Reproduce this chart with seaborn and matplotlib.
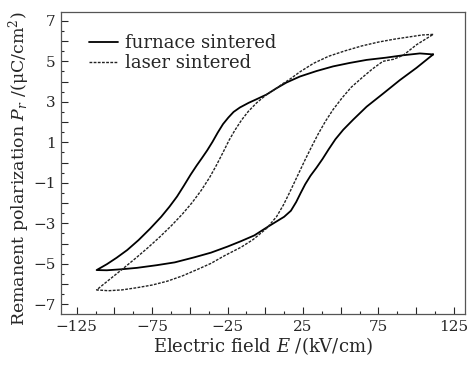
import numpy as np
import pandas as pd
import seaborn as sns
import matplotlib.pyplot as plt
from matplotlib.ticker import MultipleLocator, FuncFormatter

# furnace sintered loop: upper branch (right tip -> left tip), then lower branch (left -> right)
furnace_E = [111.3, 102.5, 91.5, 80.0, 67.2, 56.0, 45.0, 34.0, 23.0, 14.0, 7.0, 0.9,
             -5.7, -11.0, -16.8, -21.0, -24.5, -28.0, -31.5, -35.0, -38.5, -42.0, -45.5,
             -49.5, -54.0, -58.5, -63.5, -69.0, -76.4, -84.0, -91.5, -98.5, -105.0, -111.8,
             -105.0, -95.2, -85.0, -72.0, -60.0, -47.0, -36.0, -25.0, -16.0, -7.3, 0.9,
             7.0, 12.5, 17.0, 20.5, 23.5, 26.5, 30.0, 34.0, 38.0, 42.0, 46.5, 51.7, 58.3,
             67.2, 78.2, 89.2, 100.3, 111.3]
furnace_P = [5.34, 5.39, 5.30, 5.18, 5.07, 4.92, 4.75, 4.52, 4.25, 3.95, 3.65, 3.36,
             3.13, 2.95, 2.72, 2.50, 2.22, 1.90, 1.48, 1.02, 0.60, 0.22, -0.15,
             -0.60, -1.15, -1.68, -2.18, -2.68, -3.27, -3.83, -4.32, -4.70, -5.02, -5.31,
             -5.32, -5.27, -5.20, -5.07, -4.93, -4.68, -4.45, -4.15, -3.88, -3.60, -3.21,
             -2.93, -2.68, -2.38, -1.95, -1.50, -1.07, -0.65, -0.25, 0.18, 0.65, 1.15, 1.62, 2.12,
             2.76, 3.41, 4.07, 4.68, 5.34]

# laser sintered loop
laser_E = [111.3, 104.0, 95.0, 86.0, 75.0, 64.0, 53.0, 42.0, 32.0, 23.0, 16.0, 11.9, 6.5,
           0.9, -5.7, -11.3, -15.7, -20.1, -24.0, -28.0, -32.5, -37.0, -42.5, -48.5,
           -55.0, -62.0, -70.0, -78.0, -86.0, -94.8, -103.0, -111.8,
           -104.0, -95.0, -85.0, -75.0, -65.0, -55.0, -45.0, -36.0, -27.0, -16.0, -8.0,
           0.9, 7.5, 12.0, 16.0, 19.5, 23.0, 26.5, 30.5, 35.0, 40.0, 45.0, 51.0, 57.0,
           64.0, 71.0, 78.0, 85.0, 91.5, 100.3, 111.3]
laser_P = [6.33, 6.30, 6.20, 6.10, 5.95, 5.76, 5.52, 5.25, 4.90, 4.48, 4.10, 3.91, 3.62,
           3.36, 2.95, 2.52, 2.10, 1.60, 1.10, 0.50, -0.15, -0.75, -1.38, -1.98,
           -2.55, -3.10, -3.68, -4.22, -4.73, -5.27, -5.76, -6.29,
           -6.33, -6.29, -6.18, -6.05, -5.86, -5.60, -5.28, -4.98, -4.60, -4.18, -3.80,
           -3.25, -2.67, -2.10, -1.50, -0.95, -0.40, 0.15, 0.75, 1.40, 2.05, 2.62, 3.20, 3.72,
           4.18, 4.62, 5.00, 5.10, 5.30, 5.82, 6.33]

labels = ["furnace sintered", "laser sintered"]

df = pd.concat([
    pd.DataFrame({"E": furnace_E, "P": furnace_P, "sample": labels[0]}),
    pd.DataFrame({"E": laser_E, "P": laser_P, "sample": labels[1]}),
])

sns.set_style("ticks")
plt.rcParams["font.family"] = ["DejaVu Serif"]
plt.rcParams["mathtext.fontset"] = "dejavuserif"

fig = plt.figure(figsize=(4.7, 3.67), dpi=100)
ax = fig.add_axes([0.1298, 0.1444, 0.8592, 0.8226])

sns.lineplot(data=df, x="E", y="P", hue="sample", style="sample",
             palette=["black", "#222222"], dashes=[(None, None), (2.0, 1.0)],
             sort=False, estimator=None, ax=ax, legend=True)
for ln, lw in zip(ax.lines, [1.3, 1.0]):
    ln.set_linewidth(lw)
    ln.set_solid_joinstyle("round")

ax.set_xlim(-135.4, 132.3)
ax.set_ylim(-7.48, 7.43)
ax.xaxis.set_major_locator(MultipleLocator(25))
ax.xaxis.set_minor_locator(MultipleLocator(12.5))
ax.yaxis.set_major_locator(MultipleLocator(1))
ax.yaxis.set_minor_locator(MultipleLocator(0.5))
ax.xaxis.set_major_formatter(FuncFormatter(
    lambda v, p: f"{v:.0f}".replace("-", "\u2212") if round(v) % 50 == 25 else ""))
ax.yaxis.set_major_formatter(FuncFormatter(
    lambda v, p: f"{v:.0f}".replace("-", "\u2212") if round(v) % 2 == 1 else ""))
ax.tick_params(which="major", direction="in", length=5, width=0.8, labelsize=11, pad=4)
ax.tick_params(which="minor", direction="in", length=2.5, width=0.8)
for sp in ax.spines.values():
    sp.set_color("#555555")
    sp.set_linewidth(0.9)

ax.set_xlabel("Electric field $E$ /(kV/cm)", fontsize=13, labelpad=1)
ax.set_ylabel("Remanent polarization $P_r$ /(\u03bcC/cm$^2$)", fontsize=12.5, labelpad=1)
ax.yaxis.label.set_y(0.48)

leg = ax.legend(loc="upper left", bbox_to_anchor=(0.03, 0.98), frameon=False,
                fontsize=13, handlelength=1.6, handletextpad=0.4, labelspacing=0.1)
for h, lw in zip(leg.get_lines(), [1.3, 1.0]):
    h.set_linewidth(lw)

fig.savefig("out.png", dpi=100)
